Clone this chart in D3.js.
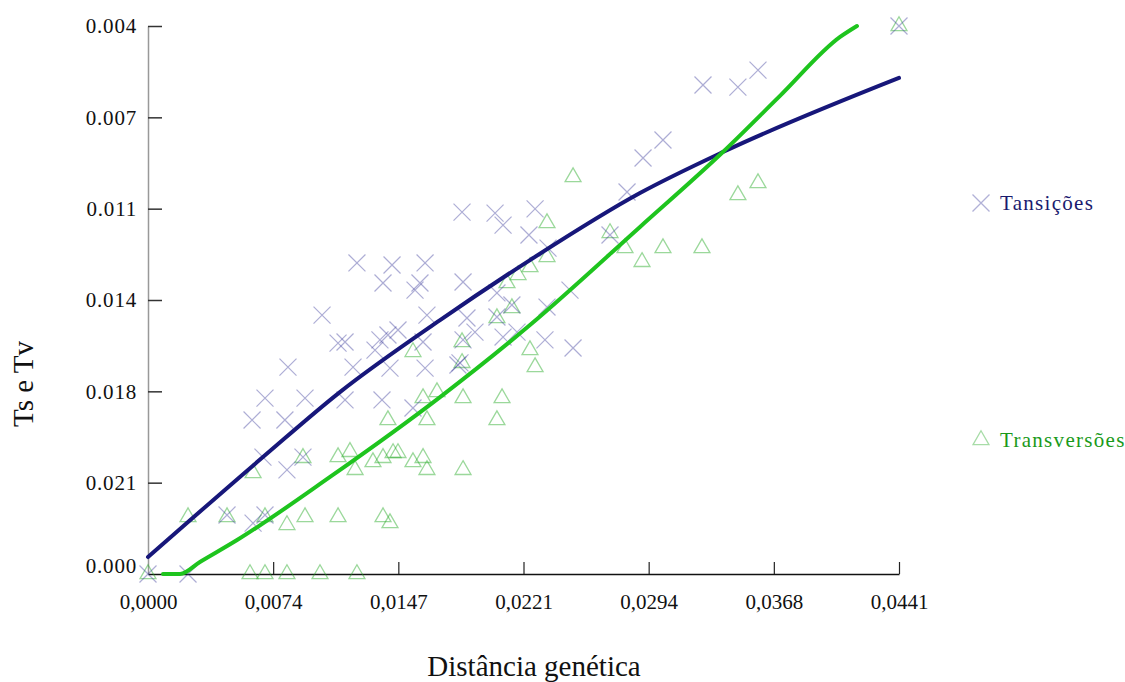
<!DOCTYPE html>
<html>
<head>
<meta charset="utf-8">
<title>Ts e Tv</title>
<style>
  body { margin: 0; background: #fff; }
  svg { font-family: "Liberation Serif", "Times New Roman", serif; }
</style>
</head>
<body>
<div id="chart"></div>
<script src="https://d3js.org/d3.v7.min.js"></script>
<script>
// axis ticks
var xTicks = [0, 0.00735, 0.0147, 0.02205, 0.0294, 0.03675, 0.0441];
var xTickLabels = ["0,0000", "0,0074", "0,0147", "0,0221", "0,0294", "0,0368", "0,0441"];
var yTicks = [0, 0.0035, 0.007, 0.0105, 0.014, 0.0175, 0.021];
var yTickLabels = ["0.000", "0.021", "0.018", "0.014", "0.011", "0.007", "0.004"];

// transitions (crosses)
var tsX = [0, 0.00235, 0.00464, 0.00617, 0.00687, 0.00675, 0.00816, 0.00910, 0.00611, 0.00804,
  0.00687, 0.00922, 0.00822, 0.01022, 0.01116, 0.01157, 0.01374, 0.01556, 0.01204, 0.01421,
  0.01627, 0.01820, 0.01157, 0.01362, 0.01409, 0.01468, 0.01333, 0.01615, 0.01850, 0.01920,
  0.02049, 0.02085, 0.01638, 0.01873, 0.02137, 0.01227, 0.01433, 0.01627, 0.01380, 0.01597,
  0.01568, 0.01850, 0.01844, 0.02038, 0.02085, 0.02273, 0.02237, 0.02713, 0.02813, 0.02907,
  0.03024, 0.03259, 0.03464, 0.03582, 0.0441, 0.02049, 0.02478, 0.02343, 0.02167, 0.02331,
  0.02496, 0.02349, 0.01832];
var tsY = [0, 0, 0.00226, 0.00195, 0.00226, 0.00448, 0.00399, 0.00448, 0.00590, 0.00590,
  0.00674, 0.00674, 0.00793, 0.00992, 0.00885, 0.00667, 0.00667, 0.00636, 0.00793, 0.00789,
  0.00789, 0.00801, 0.00889, 0.00897, 0.00916, 0.00935, 0.00858, 0.00889, 0.00897, 0.00927,
  0.00985, 0.00908, 0.00992, 0.00981, 0.01031, 0.01192, 0.01184, 0.01192, 0.01115, 0.01115,
  0.01088, 0.01119, 0.01387, 0.01383, 0.01337, 0.01399, 0.01299, 0.01299, 0.01464, 0.01594,
  0.01663, 0.01874, 0.01866, 0.01931, 0.0210, 0.01077, 0.01088, 0.01023, 0.00927, 0.00897,
  0.00866, 0.01249, 0.00809];

// transversions (triangles)
var tvX = [0, 0.00235, 0.00464, 0.00687, 0.00816, 0.00922, 0.01116, 0.00617, 0.00910, 0.01116,
  0.00599, 0.00687, 0.00816, 0.01010, 0.01227, 0.01380, 0.01421, 0.01186, 0.01216, 0.01321,
  0.01380, 0.01439, 0.01468, 0.01556, 0.01615, 0.01638, 0.01850, 0.01409, 0.01638, 0.02049,
  0.01697, 0.01615, 0.01850, 0.02079, 0.01556, 0.01844, 0.01844, 0.02108, 0.02137, 0.02049,
  0.02243, 0.02273, 0.02173, 0.02243, 0.02343, 0.02343, 0.02496, 0.02801, 0.02901, 0.03024,
  0.03253, 0.03464, 0.03582, 0.0441, 0.02713];
var tvY = [0, 0.00218, 0.00218, 0.00218, 0.00188, 0.00218, 0.00218, 0.00387, 0.00445, 0.00448,
  0, 0, 0, 0, 0, 0.00218, 0.00195, 0.00468, 0.00399, 0.00429,
  0.00445, 0.00464, 0.00464, 0.00429, 0.00445, 0.00399, 0.00399, 0.00590, 0.00590, 0.00590,
  0.00697, 0.00674, 0.00674, 0.00674, 0.00851, 0.00889, 0.00809, 0.01115, 0.01019, 0.00981,
  0.00858, 0.00793, 0.01146, 0.01176, 0.01215, 0.01345, 0.01521, 0.01249, 0.01196, 0.01249,
  0.01249, 0.01452, 0.01498, 0.0210, 0.01307];

// fitted curves
var tsFitX = [0, 0.00675, 0.01127, 0.01715, 0.02243, 0.02889, 0.03376, 0.0441];
var tsFitY = [0.00065, 0.00448, 0.00697, 0.00973, 0.01203, 0.01460, 0.01617, 0.01901];
var tvFitX = [0.00088, 0.00188, 0.00305, 0.00523, 0.01069, 0.01715, 0.02243, 0.02889, 0.03376, 0.03711, 0.04064, 0.04163];
var tvFitY = [0, 0, 0.00046, 0.00130, 0.00372, 0.00678, 0.00954, 0.01330, 0.01617, 0.01832, 0.02058, 0.0210];

var W = 1125, H = 682;
var margin = {top: 26, left: 148};
var width = 751, height = 548;

var svg = d3.select("#chart").append("svg")
  .attr("width", W)
  .attr("height", H);

var g = svg.append("g")
  .attr("transform", "translate(" + margin.left + "," + margin.top + ")");

var x = d3.scaleLinear().domain([0, 0.0441]).range([0, width]);
var y = d3.scaleLinear().domain([0, 0.021]).range([height, 0]);

var tsColor = "#3c3c9c", tvColor = "#22a822";

// y axis
var yAxis = g.append("g")
  .call(d3.axisLeft(y).tickValues(yTicks)
    .tickFormat(function(d, i) { return yTickLabels[i]; })
    .tickSizeInner(-14).tickSizeOuter(0).tickPadding(11));
yAxis.select(".domain").attr("stroke", "#999").attr("stroke-width", 1.5);
yAxis.selectAll(".tick line").attr("stroke", "#333").attr("stroke-width", 1.5);
yAxis.selectAll(".tick").filter(function(d) { return d === 0; }).select("line").remove();
yAxis.selectAll(".tick text")
  .attr("font-family", "Liberation Serif, serif")
  .attr("font-size", 21).attr("letter-spacing", 0.8).attr("fill", "#111");
// the 0.000 label sits a little above the x axis
yAxis.selectAll(".tick").filter(function(d) { return d === 0; }).select("text").attr("y", -8);

// x axis
var xAxis = g.append("g")
  .attr("transform", "translate(0," + height + ")")
  .call(d3.axisBottom(x).tickValues(xTicks)
    .tickFormat(function(d, i) { return xTickLabels[i]; })
    .tickSizeInner(-12).tickSizeOuter(0).tickPadding(20));
xAxis.select(".domain").attr("stroke", "#111").attr("stroke-width", 1.5);
xAxis.selectAll(".tick line").attr("stroke", "#222").attr("stroke-width", 1.2);
xAxis.selectAll(".tick").filter(function(d) { return d === 0; }).select("line").remove();
xAxis.selectAll(".tick text")
  .attr("font-family", "Liberation Serif, serif")
  .attr("font-size", 21).attr("fill", "#111");

var ts = tsX.map(function(v, i) { return {x: v, y: tsY[i]}; });
var tv = tvX.map(function(v, i) { return {x: v, y: tvY[i]}; });

var cross = d3.symbol().type(d3.symbolX).size(190);
var tri = d3.symbol().type(d3.symbolTriangle).size(110);

g.selectAll(".tv")
  .data(tv)
  .enter().append("path")
    .attr("class", "tv")
    .attr("d", tri)
    .attr("transform", function(d) { return "translate(" + x(d.x) + "," + y(d.y) + ")"; })
    .attr("fill", "none")
    .attr("stroke", tvColor)
    .attr("stroke-opacity", 0.45)
    .attr("stroke-width", 1.3);

g.selectAll(".ts")
  .data(ts)
  .enter().append("path")
    .attr("class", "ts")
    .attr("d", cross)
    .attr("transform", function(d) { return "translate(" + x(d.x) + "," + y(d.y) + ")"; })
    .attr("fill", "none")
    .attr("stroke", tsColor)
    .attr("stroke-opacity", 0.42)
    .attr("stroke-width", 1.2);

var line = d3.line()
  .x(function(d) { return x(d.x); })
  .y(function(d) { return y(d.y); })
  .curve(d3.curveMonotoneX);

var tsFit = tsFitX.map(function(v, i) { return {x: v, y: tsFitY[i]}; });
var tvFit = tvFitX.map(function(v, i) { return {x: v, y: tvFitY[i]}; });

g.append("path")
  .datum(tsFit)
  .attr("d", line)
  .attr("fill", "none")
  .attr("stroke", "#17177a")
  .attr("stroke-width", 4)
  .attr("stroke-linecap", "round");

g.append("path")
  .datum(tvFit)
  .attr("d", line)
  .attr("fill", "none")
  .attr("stroke", "#1ec41e")
  .attr("stroke-width", 4)
  .attr("stroke-linecap", "round");

// legend
var legend = [
  {label: "Tansições", sym: cross, color: tsColor, text: "#1a1a6e", y: 203},
  {label: "Transversões", sym: tri, color: tvColor, text: "#1a9a1a", y: 440}
];
var lg = svg.selectAll(".legend")
  .data(legend)
  .enter().append("g")
    .attr("class", "legend")
    .attr("transform", function(d) { return "translate(981," + d.y + ")"; });
lg.append("path")
  .attr("d", function(d) { return d.sym(); })
  .attr("fill", "none")
  .attr("stroke", function(d) { return d.color; })
  .attr("stroke-opacity", 0.4)
  .attr("stroke-width", 1.3);
lg.append("text")
  .attr("x", 19)
  .attr("dy", "0.35em")
  .attr("font-size", 21)
  .attr("letter-spacing", 1.3)
  .attr("fill", function(d) { return d.text; })
  .text(function(d) { return d.label; });

// axis titles
svg.append("text")
  .attr("transform", "translate(33,384) rotate(-90)")
  .attr("text-anchor", "middle")
  .attr("font-size", 29)
  .attr("fill", "#111")
  .text("Ts e Tv");

svg.append("text")
  .attr("x", 534)
  .attr("y", 676)
  .attr("text-anchor", "middle")
  .attr("font-size", 29)
  .attr("fill", "#111")
  .text("Distância genética");
</script>
</body>
</html>
